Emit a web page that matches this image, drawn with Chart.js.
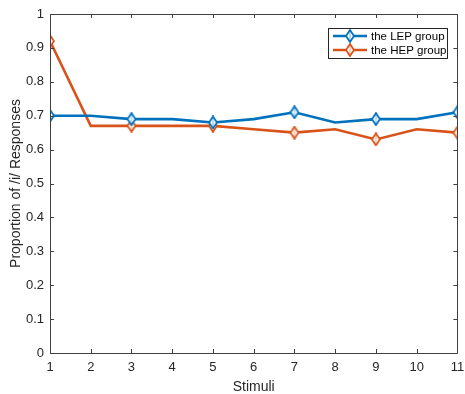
<!DOCTYPE html>
<html>
<head>
<meta charset="utf-8">
<script src="https://cdn.jsdelivr.net/npm/chart.js@4.4.0/dist/chart.umd.min.js"></script>
<style>
  html, body { margin: 0; padding: 0; background: #ffffff; }
</style>
</head>
<body>
<canvas id="c" width="465" height="394"></canvas>
<script>
// ---- data ----
const stimuli = [1, 2, 3, 4, 5, 6, 7, 8, 9, 10, 11];
const lepValues = [0.70, 0.70, 0.69, 0.69, 0.68, 0.69, 0.71, 0.68, 0.69, 0.69, 0.71];
const hepValues = [0.92, 0.67, 0.67, 0.67, 0.67, 0.66, 0.65, 0.66, 0.63, 0.66, 0.65];
const seriesNames = ['the LEP group', 'the HEP group'];
const xTickValues = [1, 2, 3, 4, 5, 6, 7, 8, 9, 10, 11];
const yTickValues = [0, 0.1, 0.2, 0.3, 0.4, 0.5, 0.6, 0.7, 0.8, 0.9, 1];
const markedStimuli = [1, 3, 5, 7, 9, 11];

const BLUE = '#0072BD';
const ORANGE = '#D95319';
const AXIS = '#262626';
const FONT = "'Liberation Sans', Arial, sans-serif";

function diamondImage(color) {
  const w = 10, h = 14;
  const c = document.createElement('canvas');
  c.width = w; c.height = h;
  const g = c.getContext('2d');
  g.fillStyle = '#ffffff';
  g.strokeStyle = color;
  g.lineWidth = 1.8;
  g.beginPath();
  g.moveTo(w / 2, 1); g.lineTo(w - 1, h / 2); g.lineTo(w / 2, h - 1); g.lineTo(1, h / 2);
  g.closePath(); g.fill(); g.stroke();
  g.beginPath();
  g.moveTo(w / 2, 3); g.lineTo(w / 2, h - 3);
  g.lineWidth = 1; g.globalAlpha = 0.5; g.stroke();
  return c;
}
const blueDiamond = diamondImage(BLUE);
const orangeDiamond = diamondImage(ORANGE);

function toPoints(vals) { return stimuli.map((s, i) => ({ x: s, y: vals[i] })); }
function markerRadius(ctx) {
  const s = stimuli[ctx.dataIndex];
  return markedStimuli.includes(s) ? 5 : 0;
}
const noPad = () => ({ left: 0, top: 0, right: 0, bottom: 0 });

const boxTicks = {
  id: 'boxTicks',
  afterDraw(chart) {
    const { ctx, chartArea: a, scales } = chart;
    ctx.save();
    ctx.strokeStyle = '#404040';
    ctx.lineWidth = 1;
    ctx.beginPath();
    ctx.rect(Math.round(a.left) + 0.5, Math.round(a.top) + 0.5,
             Math.round(a.right - a.left), Math.round(a.bottom - a.top));
    ctx.stroke();
    const L = 4;
    ctx.beginPath();
    xTickValues.forEach(v => {
      const px = Math.round(scales.x.getPixelForValue(v)) + 0.5;
      ctx.moveTo(px, a.bottom); ctx.lineTo(px, a.bottom - L);
      ctx.moveTo(px, a.top); ctx.lineTo(px, a.top + L);
    });
    yTickValues.forEach(v => {
      const py = Math.round(scales.y.getPixelForValue(v)) + 0.5;
      ctx.moveTo(a.left, py); ctx.lineTo(a.left + L, py);
      ctx.moveTo(a.right, py); ctx.lineTo(a.right - L, py);
    });
    ctx.stroke();

    // legend box
    const bx = 328, by = 28, bw = 119, bh = 30;
    ctx.fillStyle = '#ffffff';
    ctx.fillRect(bx, by, bw, bh);
    ctx.strokeStyle = '#262626';
    ctx.lineWidth = 1;
    ctx.strokeRect(bx + 0.5, by + 0.5, bw, bh);
    const rows = [by + 8, by + 22];
    const imgs = [blueDiamond, orangeDiamond];
    chart.data.datasets.forEach((ds, i) => {
      const y = rows[i];
      ctx.strokeStyle = ds.borderColor;
      ctx.lineWidth = 2.6;
      ctx.beginPath();
      ctx.moveTo(333, y); ctx.lineTo(367, y);
      ctx.stroke();
      ctx.drawImage(imgs[i], 350 - 5, y - 7);
      ctx.fillStyle = '#000000';
      ctx.font = '11.5px ' + FONT;
      ctx.textBaseline = 'middle';
      ctx.textAlign = 'left';
      ctx.fillText(ds.label, 371, y + 0.5);
    });
    ctx.restore();
  }
};

new Chart(document.getElementById('c'), {
  type: 'line',
  data: {
    datasets: [
      { label: seriesNames[0], data: toPoints(lepValues), borderColor: BLUE, backgroundColor: '#ffffff',
        borderWidth: 2.6, pointStyle: blueDiamond, pointRadius: markerRadius, tension: 0 },
      { label: seriesNames[1], data: toPoints(hepValues), borderColor: ORANGE, backgroundColor: '#ffffff',
        borderWidth: 2.6, pointStyle: orangeDiamond, pointRadius: markerRadius, tension: 0 }
    ]
  },
  options: {
    responsive: false,
    animation: false,
    layout: { padding: { left: 0, right: 3, top: 14, bottom: 0 } },
    plugins: { legend: { display: false }, tooltip: { enabled: false } },
    scales: {
      x: {
        type: 'linear', min: 1, max: 11,
        afterBuildTicks: s => { s.ticks = xTickValues.map(v => ({ value: v })); },
        afterFit: s => { s.height = 41; s.paddingLeft = 0; s.paddingRight = 0; s.getPadding = noPad; },
        grid: { display: false, drawTicks: false },
        border: { display: false },
        ticks: { color: AXIS, font: { family: FONT, size: 13 }, padding: 7, maxRotation: 0, autoSkip: false },
        title: { display: true, text: 'Stimuli', color: AXIS, font: { family: FONT, size: 14, lineHeight: 1 }, padding: { top: 0, bottom: 0 } }
      },
      y: {
        type: 'linear', min: 0, max: 1,
        afterBuildTicks: s => { s.ticks = yTickValues.map(v => ({ value: v })); },
        afterFit: s => { s.width = 50; s.paddingTop = 0; s.paddingBottom = 0; s.getPadding = noPad; },
        grid: { display: false, drawTicks: false },
        border: { display: false },
        ticks: { color: AXIS, font: { family: FONT, size: 13 }, padding: 6,
                 callback: v => String(Math.round(v * 10) / 10) },
        title: { display: true, text: 'Proportion of /i/ Responses', color: AXIS, font: { family: FONT, size: 14 }, padding: { top: 8, bottom: 0 } }
      }
    }
  },
  plugins: [boxTicks]
});
</script>
</body>
</html>
